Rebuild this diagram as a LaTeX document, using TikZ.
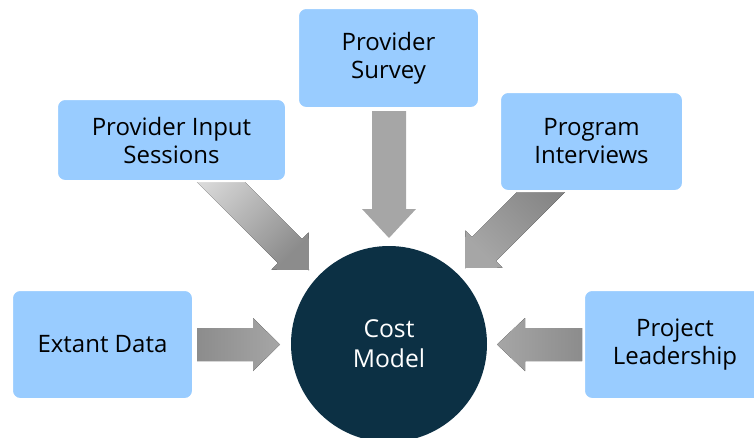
\documentclass[tikz,border=0pt]{standalone}
\usepackage{fontspec}
\setmainfont{Open Sans}
\usepackage{xcolor}
\usepackage{tikz}

\definecolor{boxblue}{HTML}{99CCFF}
\definecolor{modelteal}{HTML}{0C3044}
\definecolor{arrowlight}{HTML}{A6A6A6}
\definecolor{arrowdark}{HTML}{8C8C8C}
\definecolor{arrowpale}{HTML}{DCDCDC}
\definecolor{arrowdeep}{HTML}{808080}

\tikzset{
	srcbox/.style={draw=white, line width=1.5pt, fill=boxblue, rounded corners=6pt,
		inner sep=0pt, align=center, text=black, font=\fontsize{18}{21}\selectfont},
	modelnode/.style={circle, fill=modelteal, inner sep=0pt, minimum size=147pt,
		align=center, text=white, font=\fontsize{18.5}{22.5}\selectfont}
}

\begin{document}
\begin{tikzpicture}[x=0.75pt, y=-0.75pt]
	\useasboundingbox (0,0) rectangle (754,437);

	% block arrows
	\fill[top color=arrowpale, bottom color=arrowdark, shading angle=45]
		(216,153) -- (302,239) -- (308.7,232.3) -- (309,270) -- (271.3,269.7) -- (278,263) -- (192,177) -- cycle;
	\fill[arrowlight]
		(372,111) -- (372,209) -- (362,209) -- (389,238) -- (416,209) -- (406,209) -- (406,111) -- cycle;
	\fill[top color=arrowdeep, bottom color=arrowlight, shading angle=-45]
		(548,161) -- (472,237) -- (465.3,230.3) -- (465,268) -- (502.7,267.7) -- (496,261) -- (572,185) -- cycle;
	\fill[left color=arrowdark, right color=arrowlight]
		(197,328) -- (253,328) -- (253,318) -- (280,344.5) -- (253,371) -- (253,361) -- (197,361) -- cycle;
	\fill[left color=arrowlight, right color=arrowdark]
		(582,328) -- (525,328) -- (525,318) -- (497,344.5) -- (525,371) -- (525,361) -- (582,361) -- cycle;

	% sources
	\node[srcbox, minimum width=135.75pt, minimum height=75pt] (survey) at (388.5,58) {Provider\\Survey};
	\node[srcbox, minimum width=171.75pt, minimum height=61.5pt] (input) at (171.5,140) {Provider Input\\Sessions};
	\node[srcbox, minimum width=137.25pt, minimum height=74.25pt] (interviews) at (591.5,141.5) {Program\\Interviews};
	\node[srcbox, minimum width=135.75pt, minimum height=81.75pt] (extant) at (102.5,344.5) {Extant Data};
	\node[srcbox, minimum width=136.5pt, minimum height=81.75pt] (leadership) at (675,344.5) {Project\\Leadership};

	% model
	\node[modelnode] (model) at (389,344) {Cost\\Model};
\end{tikzpicture}
\end{document}
